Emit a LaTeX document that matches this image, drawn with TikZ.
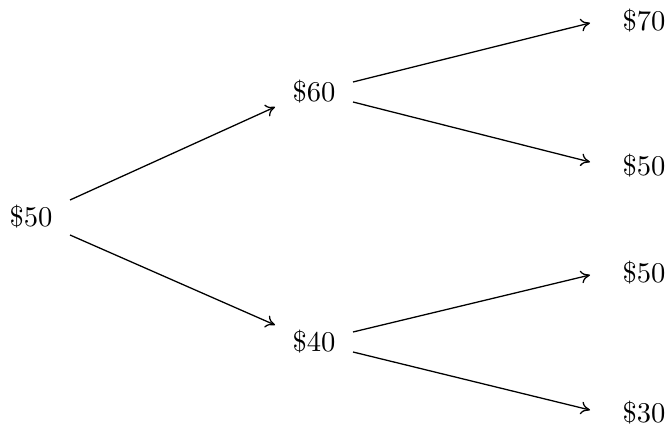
\documentclass[tikz,border=0pt]{standalone}
\usetikzlibrary{arrows.meta}
\begin{document}
\begin{tikzpicture}[x=0.35pt,y=-0.35pt,
  val/.style={inner sep=0pt,font=\fontsize{10}{12}\selectfont},
  edge/.style={-{To[length=3.2pt,width=4.5pt]},line width=0.45pt}]
\useasboundingbox (0,0) rectangle (668,429);
\node[val] (r) at (31,217) {\$50};
\node[val] (u) at (314,92) {\$60};
\node[val] (d) at (314,342) {\$40};
\node[val] (uu) at (644,21) {\$70};
\node[val] (ud) at (644,166) {\$50};
\node[val] (du) at (644,273) {\$50};
\node[val] (dd) at (644,413) {\$30};
\draw[edge] ([shift={(39,-17)}]r.center) -- ([shift={(-39,15)}]u.center);
\draw[edge] ([shift={(39,18)}]r.center) -- ([shift={(-39,-17)}]d.center);
\draw[edge] ([shift={(39,-10)}]u.center) -- ([shift={(-54,2)}]uu.center);
\draw[edge] ([shift={(39,10)}]u.center) -- ([shift={(-54,-4)}]ud.center);
\draw[edge] ([shift={(39,-10)}]d.center) -- ([shift={(-54,2)}]du.center);
\draw[edge] ([shift={(39,10)}]d.center) -- ([shift={(-54,-3)}]dd.center);
\end{tikzpicture}
\end{document}
